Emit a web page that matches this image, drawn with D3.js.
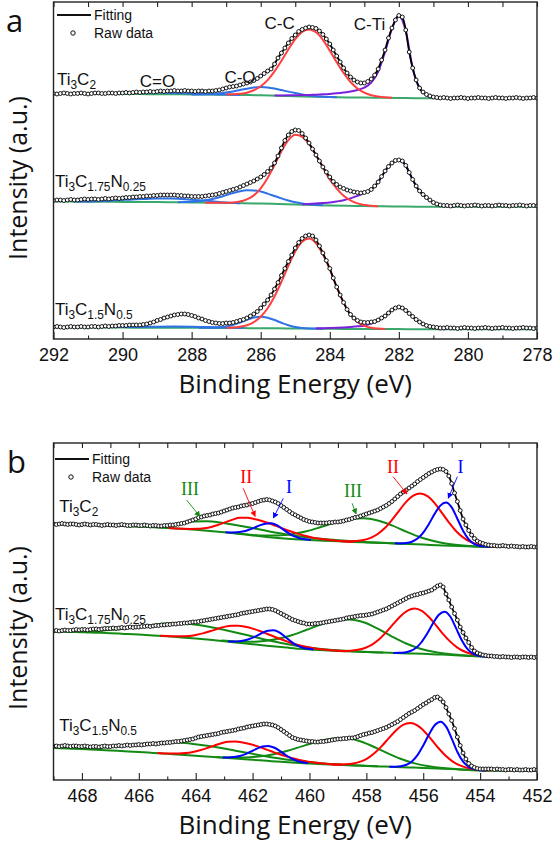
<!DOCTYPE html>
<html><head><meta charset="utf-8">
<script src="https://cdn.jsdelivr.net/npm/d3@7/dist/d3.min.js"></script>
<style>
html,body{margin:0;padding:0;background:#fff;}
svg{display:block;}
</style></head>
<body>
<svg id="chart" width="554" height="849"></svg>
<script>
// ================= DATA =================
// Panel a : C 1s, binding energy 292 -> 278 eV, raw points every 0.1 eV
const tickLabelsA = [292,290,288,286,284,282,280,278];
const tickLabelsB = [468,466,464,462,460,458,456,454,452];
const samples = ["Ti3C2","Ti3C1.75N0.25","Ti3C1.5N0.5"];
const peakNamesA = ["C=O","C-O","C-C","C-Ti"];
const romanB = ["III","II","I","III","II","I"];

const rawA1 = [245.5,245,245.5,246,245.5,245,245.5,245.5,246,245.5,245,245.5,246,246,245.5,245.5,246,246,245.5,246,
246,246.5,246,246.5,247,246.5,247,247,247.5,247,
247.5,248,247.5,248,248,248.5,248,248,248.5,248,248,247.5,248,248,247.5,248,248,248.5,
249,250,251,252,252.5,253,254,255,256,257,258.5,260.5,263,265.5,268,
270,275,281,286,291,296,300.5,304,307.5,309.5,311,312,311.5,310.5,308,304.5,300,295,289,283,277,271,266,262,259,257,256,256,257.5,260,264,270,279,289,301,311,319,323.5,322,309,287,271,259,251,247,244.5,243,242,241.5,
241,241.5,241,240.5,241,241,241.5,241,240.5,241,241,241.5,241,241,240.5,241,241.5,241,241,240.5,241,241,241.5,241,240.5,241,241,241.5,241];
const rawA2 = [138.5,139,139,138.5,139,139.5,139,139,139.5,140,139.5,140,140,139.5,140,140.5,140,140.5,141,140.5,141,
141.5,141.5,142,142,142.5,142.5,143,143,143.5,143.5,144,144,144,144,144,143.5,143.5,143,143,142.5,142.5,142.5,142.5,143,143.5,144,144.5,145.5,146.5,147.5,148.5,149.5,150.5,152,153.5,155,156.5,158,160,
162,164.5,167.5,171,176,183,191,198.5,204,207.5,209,208.5,205.5,201,196,190,184,178,172,167,162,157.5,154.5,152,150.5,149,148,147,146.5,146,146.5,147.5,149.5,153,157,162.5,168,172.5,176,178.5,179,178,173.5,166.5,159.5,153,148,144.5,141.5,139,136.5,135,134,133.5,
133.5,133,133.5,134,133.5,133,133.5,133.5,134,133.5,133,133.5,133.5,133,133.5,134,133.5,133.5,133,133.5,133.5,134,133.5,133,133.5,133.5,133];
const rawA3 = [12,12.5,12,11.5,12,12.5,12,12,12.5,12,12,12.5,12.5,12,12.5,13,12.5,13,13,13.5,
13.5,13.5,14,14,14,14,14.5,15,16,17,18.5,19.5,21,22,23,24,24.5,25,25,24.5,23.5,22.5,21,20,18.5,17.5,16.5,16,15.5,15.5,16,16,16.5,17.5,18.5,19.5,21,23,25,27.5,
31,35,39,44,50,56.5,63.5,70.5,77.5,84,91,96.5,100.5,103,104,103,99,93,86,78.5,70.5,61,52,44,36.5,29.5,24.5,21,18.5,17,16.5,16.5,17,17.5,19,21,23,26,29,31,32,31,28.5,25.5,22.5,19.5,17,15,13.5,12.5,12,11.5,11,
11,11.5,11,11,10.5,11,11.5,11,11,10.5,11,11,11.5,11,10.5,11,11,11.5,11,11,10.5,11,11,11.5,11,11,10.5,11];

// Shirley-type backgrounds, every 0.5 eV from the left edge
const bgA1 = [245,245,245,245,245,244.9,244.8,244.7,244.6,244.4,244.3,244,243.7,243.2,242.8,242.3,241.9,241.6,241.4,241.2,241,240.8,240.8,240.8,240.8,240.8,240.8,240.8,240.8];
const bgA2 = [137.5,137.4,137.3,137.2,137.1,137,136.9,136.7,136.5,136.3,136,135.8,135.5,135,134.5,134,133.5,133.2,133,132.7,132.5,132.3,132.3,132.3,132.3,132.3,132.3,132.3,132.3];
const bgA3 = [11.5,11.5,11.5,11.4,11.4,11.3,11.3,11.2,11.2,11.1,11,10.9,10.8,10.65,10.5,10.35,10.2,10.1,10,9.9,9.9,9.8,9.8,9.8,9.8,9.8,9.8,9.8,9.8];

// fitted components: heights above background, first energy + step (eV)
const a1CdO = {from:291.4, step:-0.4, h:[0,0,.2,.6,1.2,1.6,1.7,1.4,1.0,.6,.3,.1,0]};
const a1CO  = {from:288.0, step:-0.2, h:[0,.1,.3,.7,1.3,2.2,3.4,4.9,6.4,7.6,8.2,8.0,7.1,5.8,4.4,3.1,2.0,1.1,.6,.3,.1,0]};
const a1CC  = {from:287.0, step:-0.2, h:[.2,.5,1.2,2.4,4.9,9.1,15.4,24.3,35.0,46.5,57.1,64.5,67.2,64.5,57.1,46.5,35.0,24.3,15.4,9.1,4.9,2.4,1.2,.5,.2]};
const a1CTi = {from:285.6, step:-0.2, h:[.3,.5,.7,1.0,1.3,1.7,2.1,2.6,3.2,3.9,4.8,5.9,7.5,10,15,26,46,69,82,67,30,10,3,.8,0]};
const a2CdO = {from:291.4, step:-0.4, h:[0,.2,.8,1.6,2.3,3.0,3.5,3.7,3.2,2.4,1.4,.5,0]};
const a2CO  = {from:288.4, step:-0.2, h:[.14,.33,.68,1.3,2.3,3.8,5.7,7.9,10.1,11.9,12.9,12.9,11.9,10.1,7.9,5.7,3.8,2.3,1.3,.68,.33,.14]};
const a2CC  = {from:287.6, step:-0.2, h:[0,0,.1,.2,.6,1.6,3.8,8.0,15.1,25.7,38.9,52.8,64.2,69.8,67.8,61,50,38,26,17,10,5.5,2.5,1.0,.4,.1]};
const a2CTi = {from:284.8, step:-0.2, h:[.5,1.0,1.5,2.2,3.0,4.2,5.5,7.5,10,13.5,16.5,24,35,43.5,46.5,41,27,15.5,9,4,1.5,.5,0]};
const a3CdO = {from:292.0, step:-0.5, h:[.4,.4,.4,.5,.6,.8,1.0,1.2,1.1,.8,.4,0]};
const a3CO  = {from:287.8, step:-0.2, h:[0,.07,.23,.64,1.56,3.2,5.6,8.3,10.6,11.5,10.6,8.3,5.6,3.2,1.56,.64,.23,.07,0]};
const a3CC  = {from:287.0, step:-0.2, h:[.2,.5,1.3,2.9,6.1,11.5,20.0,31.9,46.6,62.6,77.0,86.9,90,85.4,74.4,59.4,42,26.5,14.5,7.0,3.2,1.3,.5,.2]};
const a3CTi = {from:284.4, step:-0.2, h:[.3,.5,.8,1.1,1.5,2.0,2.6,3.3,5.5,8.5,13,19,22,18.5,12.5,7,3.5,1.5,.6,.2]};

// Panel b : Ti 2p, 469 -> 452 eV, raw points every 0.1 eV
const rawB1 = [256,255.5,256,256.5,256,255.5,256,256,255.5,255,
255.5,256,255.5,255,255.5,255.5,255,254.5,255,255.5,
255,255,254.5,255,255.5,255,254.5,254.5,255,255,
254.5,254.5,255,254.5,254,254.5,254.5,254,254,254.5,
254.5,255,255,
255.5,256,256.5,257,258,259,260,261,262.5,263,
264,264.5,265,266,266.5,267,268,269,270,271,
272,272.5,273,274,274.5,275,276,276.5,277.5,278.5,
279.5,280,280.5,280,279,278,276.5,274.5,272.5,270.5,
268.5,266.5,265,263.5,262,260.5,259.5,258.5,258,257.5,
257,257,257,257,257.5,257.5,258,258,258.5,259,
260,260.5,261.5,262.5,263,264,265,266,267,268,
269,270,271.5,273,274.5,276.5,278.5,281,283.5,286,
288,290,292,294,296,298.5,300.5,302.5,304.5,306.5,
308,309.5,310.5,311,310.5,308.5,304,296.5,287,278.5,
269.5,261,255,249.5,245,241.5,239,237.5,236.5,235.5,235,
234.5,234.5,234,234,234.5,234,233.5,234,233.5,233.5,233,233.5,233,233,233.5,233,233];
const rawB2 = [149,149.5,149,149.5,150,149.5,149.5,150,150.5,150,
150.5,150.5,150,150.5,151,151,150.5,151,151.5,151.5,
151.5,152,151.5,152,152.5,152,152.5,153,152.5,153,
153,153.5,153.5,154,153.5,154,154.5,154.5,155,155,
155.5,155.5,156,156,156.5,156.5,157,157,157.5,158,
158,158.5,159,159.5,160,160.5,161,161.5,162,162.5,
163,163.5,164,164.5,165,165.5,166.5,167,167.5,168,
168.5,169,169.5,170,170.5,171,171,170.5,169.5,168,
166.5,165,163.5,162,160.5,159.5,158.5,157.5,157,156,
156,156,156.5,156.5,157,157.5,158,158.5,159,159.5,
160,160.5,161,162,162.5,163,163.5,164,164.5,164.5,
165,165.5,166,167,168,169,170,171,172.5,174,
175.5,177,178.5,180,181.5,183,184,185,185.5,186.5,
187,188,189,190,192,194,195,193,186,180,
173,166.5,160,153,147.5,142,137.5,132.5,129,127,
126,125,124.5,124,
124,123.5,123.5,123,123.5,123,123,122.5,123,123,122.5,123,123,122.5,123,122.5,123];
const rawB3 = [34,34,33.5,34,34.5,34,33.5,34,34,33.5,
33.5,34,33.5,33,33.5,33.5,33,33.5,34,33.5,
33.5,34,34,34.5,34,34.5,35,34.5,35,35,
35.5,35,35.5,36,36,36.5,36,36.5,37,37,
37.5,37.5,38,38.5,38.5,39,39.5,40,40.5,41,
42,43,43.5,44,44.5,45,45.5,46,46.5,47.5,
48,48.5,49,49.5,50,51,51.5,52,53,53.5,
54,54.5,55,55.5,56,56,55.5,55,54,52.5,
50.5,48.5,46.5,44.5,42.5,41.5,40.5,40,39.5,39,
38.5,38.5,38,38,38.5,38.5,39,39.5,40,40.5,
41,41,41.5,41.5,42,42,42.5,43.5,44.5,45.5,
46,47,47.5,48.5,49.5,50.5,51.5,52.5,54,55.5,
57,58.5,60.5,62.5,64.5,66.5,68,69.5,71.5,73.5,
75.5,77,79,80.5,82.5,83,81,78,72.5,66,
59.5,51.5,43,34.5,27,21,16.5,14,12.5,11.5,
11,11,11,11,
11,10.5,11,10.5,10.5,10,10.5,10.5,10,10.5,10,10,10.5,10,10,10.5,10];

const bgB1 = [256,255.7,255.3,254.9,254.5,254,253.4,252.8,252,251.2,250.2,249,247.7,246.2,244.6,243.1,241.8,240.8,240,239.3,238.7,238.1,237.6,237.1,236.6,236,235.4,234.8,234.2,233.7,233.3,233.1,233,233,233];
const bgB2 = [148.5,148.2,147.8,147.3,146.8,146.1,145.4,144.6,143.7,142.6,141.5,140.2,138.8,137.3,135.8,134.3,132.9,131.6,130.6,129.7,129,128.4,127.9,127.4,127,126.6,126.2,125.6,125,124.3,123.5,123.2,123,123,123];
const bgB3 = [32,31.5,31,30.3,29.6,28.8,28,27.1,26.2,25.2,24.2,23.2,22.2,21.2,20.2,19.2,18.2,17.3,16.5,15.8,15.2,14.6,14.1,13.6,13.1,12.6,12.1,11.5,10.9,10.2,9.6,9.3,9.2,9.1,9.1];

const b1IIIr = {from:462.6, step:-0.5, h:[.14,.41,1.06,2.4,4.9,8.6,13.5,18.6,22.5,24,22.3,17.9,12.3,7.3,3.8,1.7,.64,.21,.06]};
const b1IIIl = {from:467.1, step:-0.5, h:[.005,.04,.2,.8,2.4,5.1,8.1,9.5,9.3,8.6,7.5,6.3,5.0,3.75,2.7,1.8,1.2,.72,.42,.23,.12,.06]};
const b1IIr  = {from:458.85, step:-0.25, h:[.14,.39,.98,2.2,4.7,8.8,15.0,23.4,32.8,42.0,48.6,51,48.6,42.0,32.8,23.4,15.0,8.8,4.7,2.2,.98,.39,.14]};
const b1IIl  = {from:464.95, step:-0.25, h:[.02,.07,.19,.49,1.1,2.3,4.2,7.0,10.3,13.6,16.1,17,16.6,15.6,14.0,12.0,9.9,7.8,5.9,4.2,2.9,1.9,1.2,.75,.43,.24,.13]};
const b1Ir   = {from:457.0, step:-0.2, h:[.06,.26,.85,2.4,5.8,12.0,20.9,31.2,39.7,43,38.4,27.3,15.5,7.0,2.5,.73,.17,.03]};
const b1Il   = {from:462.95, step:-0.2, h:[.2,.55,1.3,2.7,4.9,7.7,10.8,13.1,14,12.7,9.4,5.8,2.9,1.2,.4,.1]};

const b2IIIr = {from:463.1, step:-0.5, h:[.35,.92,2.1,4.3,8.0,13.2,19.4,25.6,30.3,32,29.7,23.8,16.4,9.8,5.0,2.2,.85,.28,.08]};
const b2IIIl = {from:468.9, step:-0.5, h:[.15,.4,.92,1.9,3.5,5.8,8.5,11.2,13.2,14,13.65,12.6,11.1,9.25,7.3,5.5,3.9,2.7,1.7,1.06,.62,.34,.18,.09]};
const b2IIr  = {from:459.05, step:-0.25, h:[.12,.34,.86,2.0,4.1,7.7,13.3,20.6,29.0,37.0,42.8,45,42.8,37.0,29.0,20.6,13.3,7.7,4.1,2.0,.86,.34,.12]};
const b2IIl  = {from:465.25, step:-0.25, h:[.09,.22,.51,1.07,2.0,3.6,5.8,8.5,11.5,14.3,16.3,17,16.6,15.6,14.0,12.0,9.9,7.8,5.9,4.2,2.9,1.9,1.2,.75,.43,.24,.13]};
const b2Ir   = {from:457.05, step:-0.2, h:[.06,.26,.85,2.4,5.8,12.0,20.9,31.2,39.7,43,38.4,27.3,15.5,7.0,2.5,.73,.17,.03]};
const b2Il   = {from:462.86, step:-0.2, h:[.23,.62,1.5,3.1,5.6,8.8,12.3,15.0,16,14.5,10.8,6.6,3.3,1.35,.46,.13]};

const b3IIIr = {from:463.3, step:-0.5, h:[.3,.77,1.8,3.6,6.7,11.1,16.4,21.6,25.5,27,25.1,20.1,13.9,8.3,4.2,1.9,.72,.24,.07]};
const b3IIIl = {from:469.1, step:-0.5, h:[.13,.34,.79,1.6,3.0,4.9,7.3,9.6,11.4,12,11.7,10.8,9.5,7.9,6.3,4.7,3.4,2.3,1.5,.9,.53,.29,.15,.08]};
const b3IIr  = {from:459.21, step:-0.25, h:[.12,.34,.85,2.0,4.1,7.6,13.1,20.3,28.6,36.5,42.3,44.4,42.3,36.5,28.6,20.3,13.1,7.6,4.1,2.0,.85,.34,.12]};
const b3IIl  = {from:465.35, step:-0.25, h:[.09,.22,.51,1.07,2.0,3.6,5.8,8.5,11.5,14.3,16.3,17,16.6,15.6,14.0,12.0,9.9,7.8,5.9,4.2,2.9,1.9,1.2,.75,.43,.24,.13]};
const b3Ir   = {from:457.19, step:-0.2, h:[.07,.28,.93,2.6,6.3,13.1,22.9,34.1,43.4,47,42.0,29.9,16.9,7.7,2.8,.8,.19,.03]};
const b3Il   = {from:463.05, step:-0.2, h:[.22,.59,1.4,2.9,5.2,8.3,11.5,14.0,15,13.8,10.9,7.3,4.2,2.0,.84,.3]};

// ================= LAYOUT / STYLE =================
const FS = "'Liberation Sans', Arial, sans-serif";
const FT = "'Open Sans', 'Liberation Sans', sans-serif";
const FR = "'Liberation Serif', 'Times New Roman', serif";
const X0 = 53.5, X1 = 537, PH = 337;
const colA = {bg:'#3aa86c', blue:'#2f72e6', purple:'#7b22dd', red:'#ff4040'};
const colB = {bg:'#138a13', green:'#138a13', red:'#ff0000', blue:'#0000ff'};

const svg = d3.select('#chart');
const defs = svg.append('defs');

function subParts(s){
  const out=[]; const re=/([A-Za-z]+)|([0-9.]+)/g; let m;
  while((m=re.exec(s))) out.push({t:m[0], sub:!!m[2]});
  return out;
}
function formula(g, s, px, py, size){
  const t = g.append('text').attr('x',px).attr('y',py).attr('font-family',FS).attr('font-size',size).attr('fill','#111');
  let shifted=false;
  subParts(s).forEach(p=>{
    const ts=t.append('tspan').text(p.t);
    if(p.sub){ ts.attr('font-size',size*0.7); if(!shifted){ts.attr('dy',size*0.26);shifted=true;} }
    else if(shifted){ ts.attr('dy',-size*0.26); shifted=false; }
  });
}

function panel(cfg){
  const x = d3.scaleLinear().domain(cfg.domain).range([X0, X1]);
  const y = d3.scaleLinear().domain([0, PH]).range([cfg.bottom, cfg.bottom - PH]);
  const top = cfg.bottom - PH;
  defs.append('clipPath').attr('id','clip'+cfg.key).append('rect')
    .attr('x',X0).attr('y',top).attr('width',X1-X0).attr('height',PH);
  const plot = svg.append('g').attr('clip-path',`url(#clip${cfg.key})`);
  const smooth = d3.line().x(d=>x(d[0])).y(d=>y(d[1])).curve(d3.curveMonotoneX);

  cfg.spectra.forEach(s=>{
    const bgE = s.bg.map((_,i)=>cfg.domain[0]-0.5*i);
    const bg = d3.scaleLinear().domain(bgE).range(s.bg);
    plot.append('path').attr('d', smooth(bgE.map((e,i)=>[e,s.bg[i]])))
      .attr('fill','none').attr('stroke',cfg.bgColor).attr('stroke-width',2);
    s.comps.forEach(c=>{
      const pts = c.d.h.map((v,i)=>{const e=c.d.from+c.d.step*i; return [e, bg(e)+v];});
      plot.append('path').attr('d',smooth(pts)).attr('fill','none')
        .attr('stroke',c.color).attr('stroke-width',2);
    });
    const raw = s.raw.map((v,i)=>[cfg.domain[0]-0.1*i, v]);
    plot.append('path').attr('d',smooth(raw)).attr('fill','none').attr('stroke','#000').attr('stroke-width',1.8);
    plot.append('g').selectAll('circle').data(raw).join('circle')
      .attr('cx',d=>x(d[0])).attr('cy',d=>y(d[1])).attr('r',1.95)
      .attr('fill','#fff').attr('stroke','#111').attr('stroke-width',1);
  });

  // axes
  const lo = Math.min(...cfg.domain), hi = Math.max(...cfg.domain);
  const ints = d3.range(lo, hi+1);
  const minor = ints.filter(v=>!cfg.labels.includes(v));
  const gb = svg.append('g').attr('transform',`translate(0,${cfg.bottom})`);
  gb.call(d3.axisBottom(x).tickValues(cfg.labels).tickSize(-7).tickPadding(9.5).tickFormat(d3.format('d')));
  const gm = svg.append('g').attr('transform',`translate(0,${cfg.bottom})`);
  gm.call(d3.axisBottom(x).tickValues(minor).tickSize(-3.5).tickFormat(''));
  const gt = svg.append('g').attr('transform',`translate(0,${top})`);
  gt.call(d3.axisTop(x).tickValues(ints).tickSize(-5).tickFormat(''));
  [gb,gm,gt].forEach(g=>{ g.select('.domain').remove(); g.selectAll('line').attr('stroke','#222').attr('stroke-width',1.1); });
  gb.selectAll('text').attr('font-family',FS).attr('font-size',18).attr('fill','#111');
  svg.append('rect').attr('x',X0).attr('y',top).attr('width',X1-X0).attr('height',PH)
    .attr('fill','none').attr('stroke','#222').attr('stroke-width',1.4);

  // titles
  svg.append('text').attr('x',(X0+X1)/2).attr('y',cfg.bottom+54).attr('text-anchor','middle')
    .attr('font-family',FT).attr('font-size',26).attr('fill','#111').text('Binding Energy (eV)');
  svg.append('text').attr('transform',`translate(27,${cfg.ytitle}) rotate(-90)`).attr('text-anchor','middle')
    .attr('font-family',FT).attr('font-size',25).attr('fill','#111').text('Intensity (a.u.)');
  svg.append('text').attr('x',cfg.letter[0]).attr('y',cfg.letter[1]).attr('font-family',FT)
    .attr('font-size',31).attr('fill','#111').text(cfg.key);

  // legend
  const L = cfg.legend;
  svg.append('line').attr('x1',L[0]).attr('x2',L[0]+34).attr('y1',L[1]).attr('y2',L[1]).attr('stroke','#111').attr('stroke-width',2.2);
  svg.append('text').attr('x',L[0]+37).attr('y',L[1]+5).attr('font-family',FS).attr('font-size',14).attr('fill','#111').text('Fitting');
  svg.append('circle').attr('cx',L[0]+16).attr('cy',L[1]+18).attr('r',2.2).attr('fill','#fff').attr('stroke','#111').attr('stroke-width',1);
  svg.append('text').attr('x',L[0]+37).attr('y',L[1]+23).attr('font-family',FS).attr('font-size',14).attr('fill','#111').text('Raw data');

  // sample labels
  cfg.spectra.forEach((s,i)=> formula(svg, samples[i], x(s.label[0]), y(s.label[1]), 17));
  return {x,y};
}

const A = panel({
  key:'a', domain:[292,278], bottom:339, labels:tickLabelsA, bgColor:colA.bg,
  ytitle:178, letter:[6,32], legend:[57,15],
  spectra:[
    {raw:rawA1, bg:bgA1, label:[291.9,254], comps:[{d:a1CdO,color:colA.blue},{d:a1CO,color:colA.blue},{d:a1CTi,color:colA.purple},{d:a1CC,color:colA.red}]},
    {raw:rawA2, bg:bgA2, label:[291.96,152], comps:[{d:a2CdO,color:colA.blue},{d:a2CO,color:colA.blue},{d:a2CTi,color:colA.purple},{d:a2CC,color:colA.red}]},
    {raw:rawA3, bg:bgA3, label:[291.96,24], comps:[{d:a3CdO,color:colA.blue},{d:a3CO,color:colA.blue},{d:a3CTi,color:colA.purple},{d:a3CC,color:colA.red}]}
  ]
});
const peakPosA = [[288.99,252],[286.6,256],[285.45,310],[282.85,309]];
peakNamesA.forEach((n,i)=>{
  svg.append('text').attr('x',A.x(peakPosA[i][0])).attr('y',A.y(peakPosA[i][1])).attr('text-anchor','middle')
    .attr('font-family',FS).attr('font-size',17).attr('fill','#111').text(n);
});

const B = panel({
  key:'b', domain:[469,452], bottom:780, labels:tickLabelsB, bgColor:colB.bg,
  ytitle:628, letter:[7,473], legend:[55,459],
  spectra:[
    {raw:rawB1, bg:bgB1, label:[468.8,268], comps:[{d:b1IIIr,color:colB.green},{d:b1IIIl,color:colB.green},{d:b1IIr,color:colB.red},{d:b1IIl,color:colB.red},{d:b1Ir,color:colB.blue},{d:b1Il,color:colB.blue}]},
    {raw:rawB2, bg:bgB2, label:[468.95,160], comps:[{d:b2IIIr,color:colB.green},{d:b2IIIl,color:colB.green},{d:b2IIr,color:colB.red},{d:b2IIl,color:colB.red},{d:b2Ir,color:colB.blue},{d:b2Il,color:colB.blue}]},
    {raw:rawB3, bg:bgB3, label:[468.8,49], comps:[{d:b3IIIr,color:colB.green},{d:b3IIIl,color:colB.green},{d:b3IIr,color:colB.red},{d:b3IIl,color:colB.red},{d:b3Ir,color:colB.blue},{d:b3Il,color:colB.blue}]}
  ]
});

// Roman numeral annotations with arrows (data coordinates)
const romanPos = [
  {t:[464.2,285], a:[464.32,280], b:[463.85,263.5], c:colB.green},
  {t:[462.22,297], a:[462.33,291.7], b:[461.91,263.5], c:colB.red},
  {t:[460.72,287], a:[460.92,281.7], b:[461.27,262], c:colB.blue},
  {t:[458.47,283], a:[458.5,276.7], b:[458.36,266], c:colB.green},
  {t:[457.06,307], a:[457.06,303.3], b:[456.57,286], c:colB.red},
  {t:[454.69,307], a:[454.8,303.3], b:[455.12,281.7], c:colB.blue}
];
romanB.forEach((r,i)=>{
  const p = romanPos[i];
  const id = 'arr'+i;
  defs.append('marker').attr('id',id).attr('viewBox','0 0 10 10').attr('refX',9).attr('refY',5)
    .attr('markerWidth',6).attr('markerHeight',6).attr('markerUnits','userSpaceOnUse').attr('orient','auto')
    .append('path').attr('d','M0,0 L10,5 L0,10 z').attr('fill',p.c);
  svg.append('text').attr('x',B.x(p.t[0])).attr('y',B.y(p.t[1])).attr('text-anchor','middle')
    .attr('font-family',FR).attr('font-size',18).attr('fill',p.c).text(r);
  svg.append('line').attr('x1',B.x(p.a[0])).attr('y1',B.y(p.a[1])).attr('x2',B.x(p.b[0])).attr('y2',B.y(p.b[1]))
    .attr('stroke',p.c).attr('stroke-width',0.9).attr('marker-end',`url(#${id})`);
});
</script>
</body></html>
